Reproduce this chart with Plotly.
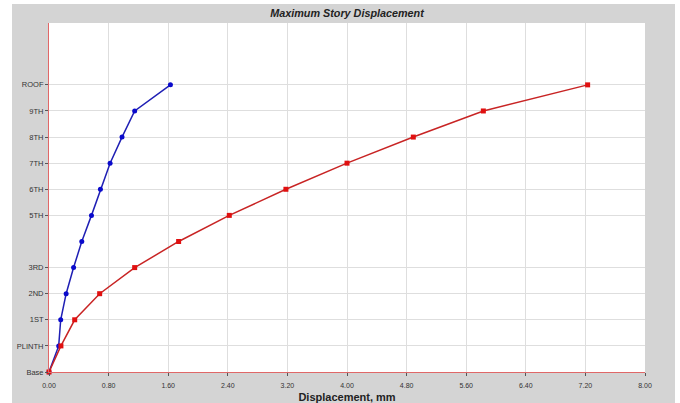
import plotly.graph_objects as go

stories = ["Base", "PLINTH", "1ST", "2ND", "3RD", "4TH", "5TH", "6TH", "7TH", "8TH", "9TH", "ROOF"]
levels = [0, 1, 2, 3, 4, 5, 6, 7, 8, 9, 10, 11]
disp_x = [0.0, 0.13, 0.157, 0.23, 0.33, 0.44, 0.57, 0.69, 0.82, 0.98, 1.15, 1.63]
disp_y = [0.0, 0.16, 0.345, 0.68, 1.15, 1.74, 2.42, 3.18, 4.00, 4.89, 5.83, 7.23]
tick_levels = [0, 1, 2, 3, 4, 6, 7, 8, 9, 10, 11]
tick_labels = ["Base", "PLINTH", "1ST", "2ND", "3RD", "5TH", "6TH", "7TH", "8TH", "9TH", "ROOF"]
x_ticks = [0, 0.8, 1.6, 2.4, 3.2, 4.0, 4.8, 5.6, 6.4, 7.2, 8.0]

fig = go.Figure()
fig.add_trace(go.Scatter(x=disp_x, y=levels, mode="lines+markers", name="X",
                         line=dict(color="#1f1fb4", width=1.5),
                         marker=dict(color="#0a0acc", size=5), cliponaxis=False))
fig.add_trace(go.Scatter(x=disp_y, y=levels, mode="lines+markers", name="Y",
                         line=dict(color="#c82424", width=1.5),
                         marker=dict(color="#e01010", size=5, symbol="square"), cliponaxis=False))

# white borders around the gray frame
for x0, x1, y0, y1 in [(0, 12, 0, 403), (675, 680, 0, 403), (0, 680, 0, 4)]:
    fig.add_shape(type="rect", xref="paper", yref="paper",
                  x0=(x0 - 49) / 596, x1=(x1 - 49) / 596,
                  y0=(372 - y1) / 349, y1=(372 - y0) / 349,
                  fillcolor="white", line=dict(width=0), layer="below")

fig.update_layout(
    width=680, height=403,
    margin=dict(l=49, r=35, t=23, b=31),
    paper_bgcolor="#d4d4d4", plot_bgcolor="white",
    showlegend=False,
    font=dict(family="Liberation Sans, Arial, sans-serif", color="#333333"),
    title=dict(text="<b><i>Maximum Story Displacement</i></b>", x=347 / 680, xanchor="center",
               y=1 - 13 / 403, yanchor="middle", font=dict(size=10.8, color="#222222")),
    xaxis=dict(range=[0, 8], tickvals=x_ticks, ticktext=[f"{v:.2f}" for v in x_ticks],
               automargin=False,
               showgrid=True, gridcolor="#dedede", gridwidth=1, zeroline=False,
               showline=True, linecolor="#e06868", linewidth=1,
               ticks="outside", ticklen=3, tickcolor="#555555",
               ticklabelstandoff=4,
               tickfont=dict(size=7, color="#333333"),
               title=dict(text="<b>Displacement, mm</b>", font=dict(size=11, color="#222222"), standoff=5)),
    yaxis=dict(range=[0, 13.37], tickvals=tick_levels, ticktext=tick_labels,
               automargin=False,
               showgrid=True, gridcolor="#dedede", gridwidth=1, zeroline=False,
               showline=True, linecolor="#e06868", linewidth=1,
               ticks="outside", ticklen=3, tickcolor="#555555",
               tickfont=dict(size=7.5, color="#333333")),
)

fig.write_html("out.html")
